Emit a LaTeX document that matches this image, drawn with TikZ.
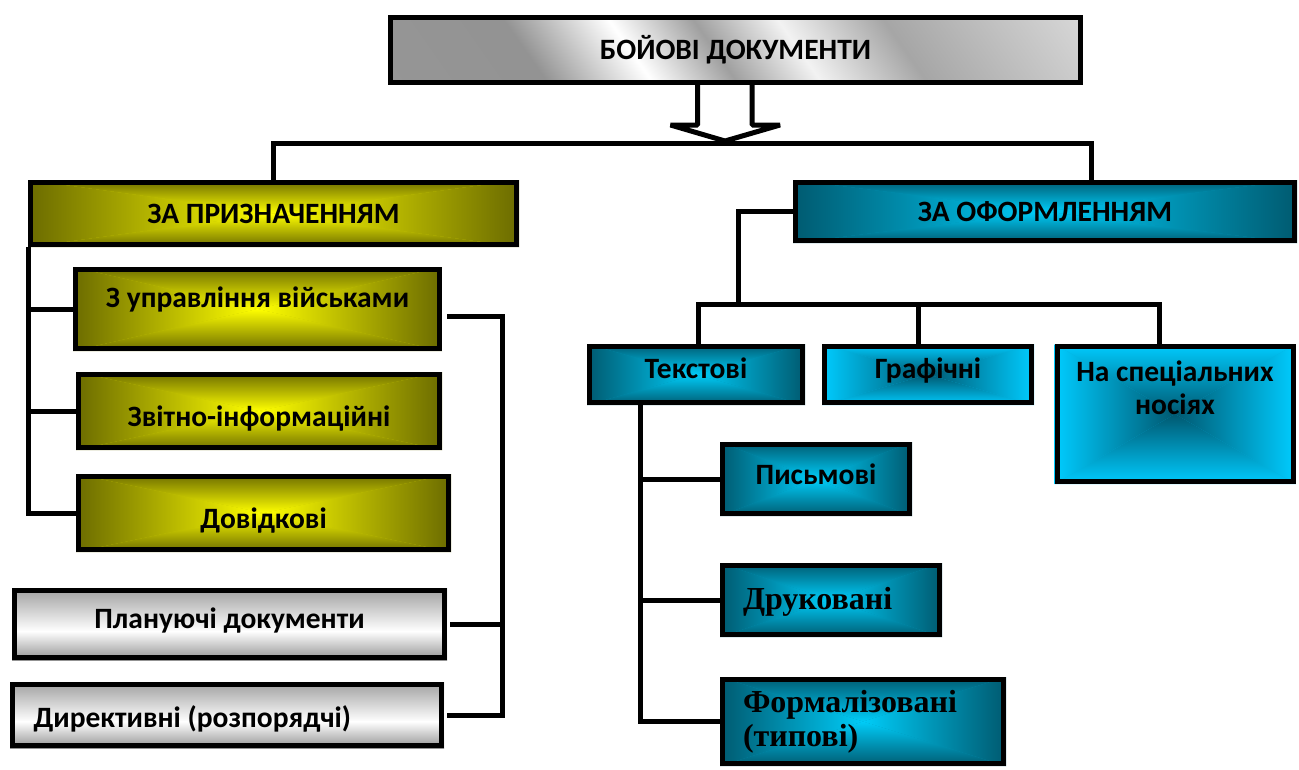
\documentclass[tikz,border=0pt]{standalone}
\usepackage{fontspec}
\setmainfont{Carlito}
\newfontfamily\timesf{Liberation Serif}
\usetikzlibrary{calc,backgrounds}
\definecolor{olvEdge}{HTML}{6B6B00}
\definecolor{olvBtw}{HTML}{C4C400}
\definecolor{olvMid}{HTML}{FFFF00}
\definecolor{tealEdge}{HTML}{005A70}
\definecolor{tealBtw}{HTML}{0092B4}
\definecolor{tealMid}{HTML}{00CCF8}
\definecolor{cyanEdge}{HTML}{00CCFF}
\definecolor{cyanBtw}{HTML}{00B2E4}
\definecolor{cyanMid}{HTML}{005870}
\pgfdeclarehorizontalshading{shine}{100bp}{color(0bp)=(gray!80);color(30bp)=(gray!85);color(40bp)=(white);color(48bp)=(gray!75);color(56bp)=(white!90!gray);color(66bp)=(gray!70);color(100bp)=(white)}
\newcommand\rectgrad[4]{%
  \begin{scope}[on background layer]
  \fill[#3] (#1.north west) rectangle (#1.south east);
  \shade[top color=#2, middle color=#3, bottom color=#4] (#1.north west) -- (#1.north east) -- (#1.center) -- cycle;
  \shade[top color=#4, middle color=#3, bottom color=#2] (#1.south west) -- (#1.south east) -- (#1.center) -- cycle;
  \shade[left color=#2, middle color=#3, right color=#4] (#1.north west) -- (#1.south west) -- (#1.center) -- cycle;
  \shade[left color=#4, middle color=#3, right color=#2] (#1.north east) -- (#1.south east) -- (#1.center) -- cycle;
  \end{scope}}
\newcommand\graygrad[1]{%
  \begin{scope}[on background layer]
  \shade[top color=gray!75, bottom color=white] (#1.north west) rectangle ($(#1.north east)!0.6!(#1.south east)$);
  \shade[top color=white, bottom color=gray!85] ($(#1.north west)!0.6!(#1.south west)$) rectangle (#1.south east);
  \end{scope}}
\tikzset{
  box/.style={draw=black, line width=5pt, inner sep=0pt, font=\bfseries\fontsize{29.5}{33}\selectfont, align=center, text height=21pt, text depth=2pt},
  conn/.style={draw=black, line width=5pt},
  serifb/.style={font=\timesf\bfseries\fontsize{32}{34}\selectfont}
}
\begin{document}
\begin{tikzpicture}[x=1pt,y=-1pt]
\useasboundingbox (0,0) rectangle (1299,769);
\begin{scope}[on background layer]
\fill[white] (0,0) rectangle (1299,769);
\end{scope}
% top
\node[box, shading=shine, shading angle=35, minimum width=690, minimum height=65] (top) at (735.5,50) {БОЙОВІ ДОКУМЕНТИ};
% left
\node[box, minimum width=486, minimum height=62] (zp) at (273.5,213.5) {ЗА ПРИЗНАЧЕННЯМ};
\node[box, minimum width=364, minimum height=79, text depth=24pt] (zu) at (257.5,309) {З управління військами};
\node[box, minimum width=361, minimum height=73, text height=33pt] (zv) at (259,411) {Звітно-інформаційні};
\node[box, minimum width=370, minimum height=73, text height=33pt] (dv) at (263.5,513) {Довідкові};
\node[box, minimum width=430, minimum height=67, text depth=12pt] (pl) at (229.5,624) {Плануючі документи};
\node[box, minimum width=429, minimum height=61,
  label={[font=\bfseries\fontsize{29.5}{33}\selectfont, anchor=west, xshift=20pt, yshift=-4pt]west:Директивні (розпорядчі)}] (dr) at (227,715) {};
% right
\node[box, minimum width=499, minimum height=58] (zo) at (1045,211.5) {ЗА ОФОРМЛЕННЯМ};
\node[box, minimum width=213, minimum height=56, text depth=14pt] (tx) at (696,374.5) {Текстові};
\node[box, minimum width=207, minimum height=56, text depth=14pt] (gr) at (928,374.5) {Графічні};
\node[box, minimum width=236, minimum height=135,
  label={[font=\bfseries\fontsize{29.5}{33}\selectfont, align=center, anchor=north, yshift=-13pt]north:На спеціальних\\носіях}] (ns) at (1175,414) {};
\node[box, minimum width=187, minimum height=69, text depth=10pt] (pm) at (816,479) {Письмові};
\node[box, serifb, minimum width=217, minimum height=69, text width=176, align=left] (dk) at (831,600) {Друковані};
\node[box, serifb, minimum width=281, minimum height=84, text width=240, align=left, text height=, text depth=] (fm) at (863,721.5) {Формалізовані\\(типові)};
% gradient fills
\rectgrad{zp}{olvEdge}{olvBtw}{olvMid}
\rectgrad{zu}{olvEdge}{olvBtw}{olvMid}
\rectgrad{zv}{olvEdge}{olvBtw}{olvMid}
\rectgrad{dv}{olvEdge}{olvBtw}{olvMid}
\rectgrad{zo}{tealEdge}{tealBtw}{tealMid}
\rectgrad{tx}{tealEdge}{tealBtw}{tealMid}
\rectgrad{pm}{tealEdge}{tealBtw}{tealMid}
\rectgrad{dk}{tealEdge}{tealBtw}{tealMid}
\rectgrad{fm}{tealEdge}{tealBtw}{tealMid}
\rectgrad{gr}{cyanEdge}{cyanBtw}{cyanMid}
\rectgrad{ns}{cyanEdge}{cyanBtw}{cyanMid}
\graygrad{pl}
\graygrad{dr}
% arrow from top
\draw[conn, fill=white, line join=bevel]
  ($(top.south)+(-38,0)$) -- ++(0,40) -- ++(-27,0) -- ($(top.south)+(-10.5,56)$) -- ++(55,-16) -- ++(-28,0) -- ++(0,-40);
% main bar
\coordinate (hub) at (725,143);
\draw[conn] (zp.north) |- (hub) -| ([xshift=46pt]zo.north);
% left spine
\draw[conn] (zp.south west) |- (dv.west);
\draw[conn] (zu.west) -| (zp.south west);
\draw[conn] (zv.west) -| (zp.south west);
% right spine
\coordinate (rtop) at (502,316);
\coordinate (rbot) at (502,715);
\draw[conn] ([xshift=5pt]zu.east |- rtop) -- (rtop) -- (rbot) -- ([xshift=3pt]dr.east |- rbot);
\draw[conn] ([xshift=3pt]pl.east) -- (pl.east -| rtop);
% right side tree
\coordinate (hb) at (738,304);
\draw[conn] (zo.west) -| (hb);
\draw[conn] ([xshift=2pt]tx.north) |- (hb) -| ([xshift=-16pt]ns.north);
\draw[conn] ([xshift=-10pt]gr.north) -- ([xshift=-10pt]gr.north |- hb);
\coordinate (ts) at (640,405);
\draw[conn] (tx.south -| ts) |- (fm.west);
\draw[conn] (pm.west) -| (ts);
\draw[conn] (dk.west) -| (ts);
\end{tikzpicture}
\end{document}
